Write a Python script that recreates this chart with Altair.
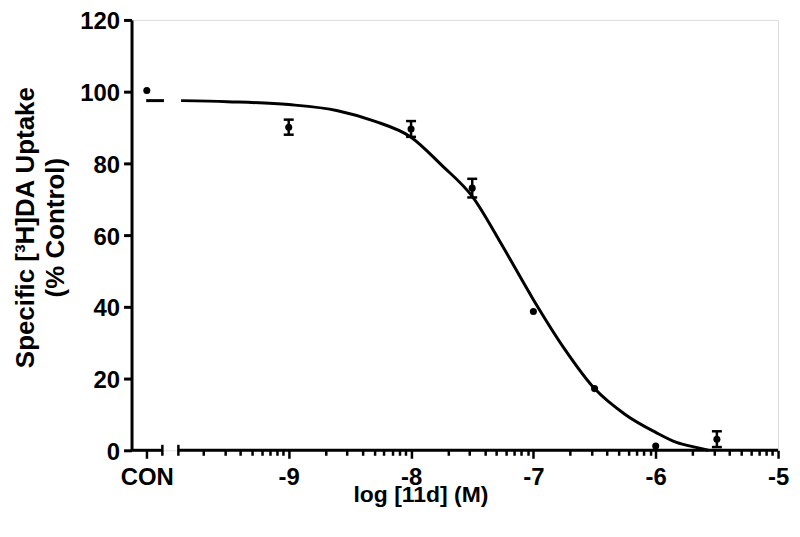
import altair as alt
import pandas as pd
import numpy as np

# ---- data ----
CON_X = -10.16                      # position of the "CON" (control) column on the log axis
dose_x = [CON_X, -9.0, -8.0, -7.5, -7.0, -6.5, -6.0, -5.5]
uptake_mean = [100.3, 90.1, 89.6, 73.1, 38.7, 17.2, 1.2, 3.1]
uptake_sem = [0.0, 2.1, 2.2, 2.6, 0.0, 0.0, 0.0, 2.2]

curve_x = [-9.88, -9.5, -9.0, -8.6, -8.3, -8.0, -7.75, -7.5, -7.25, -7.0,
           -6.75, -6.5, -6.25, -6.0, -5.83, -5.67, -5.57]
curve_y = [97.5, 97.2, 96.4, 94.7, 91.8, 87.3, 79.5, 70.8, 56.8, 42.0,
           28.5, 17.2, 10.0, 5.0, 2.2, 0.8, 0.0]
con_curve_x = [-10.165, -10.02]
con_curve_y = [97.5, 97.5]

major_ticks = [-9, -8, -7, -6, -5]
major_labels = ["-9", "-8", "-7", "-6", "-5"]
y_ticks = [0, 20, 40, 60, 80, 100, 120]
X_MIN, X_MAX = -10.285, -5.0
seg_start = [X_MIN, -9.902]
seg_end = [-10.033, X_MAX]

minor_ticks = [float(d + np.log10(k)) for d in range(-10, -5) for k in range(2, 10)]

FONT = "Liberation Sans"

# ---- tables ----
pts = pd.DataFrame({"x": dose_x, "y": uptake_mean, "sem": uptake_sem})
err = pts[pts["sem"] > 0].copy()
err["lo"] = err["y"] - err["sem"]
err["hi"] = err["y"] + err["sem"]
curve = pd.DataFrame({
    "x": con_curve_x + curve_x,
    "y": con_curve_y + curve_y,
    "seg": ["con"] * len(con_curve_x) + ["main"] * len(curve_x),
})
axis_segs = pd.DataFrame({"x": seg_start, "x2": seg_end})
breaks = pd.DataFrame({"x": [seg_end[0], seg_start[1]]})

xs = alt.Scale(domain=[X_MIN, X_MAX], nice=False, zero=False)
ys = alt.Scale(domain=[0, 120], nice=False, zero=False)

label_map = "{" + ", ".join(f"'{v}': '{l}'" for v, l in zip(major_ticks, major_labels)) + "}"

x_axis = alt.Axis(
    values=[CON_X] + major_ticks,
    domain=False, grid=False,
    tickColor="black", tickWidth=2.5, tickSize=8,
    labelExpr=f"datum.value < -10.1 ? 'CON' : {label_map}['' + datum.value]",
    labelFont=FONT, labelFontSize=24, labelFontWeight="bold", labelColor="black",
    labelBaseline="alphabetic", labelPadding=26, labelFlush=False, labelOverlap=False,
    title="log [11d] (M)",
    titleFont=FONT, titleFontSize=23, titleFontWeight="bold", titleColor="black",
    titleX=290, titleY=51, titleBaseline="alphabetic", titleAlign="center",
    orient="bottom",
)
minor_axis = alt.Axis(
    values=minor_ticks, domain=False, grid=False, labels=False, title=None,
    tickColor="black", tickWidth=2.5, tickSize=5, orient="bottom",
)
y_axis = alt.Axis(
    values=y_ticks,
    grid=False,
    domainColor="black", domainWidth=3,
    tickColor="black", tickWidth=3, tickSize=8,
    labelFont=FONT, labelFontSize=24, labelFontWeight="bold", labelColor="black",
    labelPadding=4, labelBaseline="alphabetic", labelOffset=9,
    title=["Specific [³H]DA Uptake", "(% Control)"],
    titleFont=FONT, titleFontSize=26, titleFontWeight="bold", titleColor="black",
    titleAngle=-90, titleX=-106, titleY=208, titleAlign="center", titleBaseline="middle",
    titleLineHeight=30,
)

points = alt.Chart(pts).mark_point(filled=True, size=50, color="black", opacity=1).encode(
    x=alt.X("x:Q", scale=xs, axis=x_axis),
    y=alt.Y("y:Q", scale=ys, axis=y_axis),
)
line = alt.Chart(curve).mark_line(color="black", strokeWidth=3, interpolate="monotone").encode(
    x=alt.X("x:Q", scale=xs), y=alt.Y("y:Q", scale=ys), detail="seg:N"
)
err_rule = alt.Chart(err).mark_rule(color="black", strokeWidth=2.5).encode(
    x=alt.X("x:Q", scale=xs), y=alt.Y("lo:Q", scale=ys), y2="hi:Q"
)
cap_lo = alt.Chart(err).mark_tick(color="black", orient="horizontal", size=10, thickness=2.5, opacity=1).encode(
    x=alt.X("x:Q", scale=xs), y=alt.Y("lo:Q", scale=ys)
)
cap_hi = alt.Chart(err).mark_tick(color="black", orient="horizontal", size=10, thickness=2.5, opacity=1).encode(
    x=alt.X("x:Q", scale=xs), y=alt.Y("hi:Q", scale=ys)
)
xaxis_line = alt.Chart(axis_segs).mark_rule(color="black", strokeWidth=3).encode(
    x=alt.X("x:Q", scale=xs), x2="x2:Q", y=alt.datum(0)
)
break_ticks = alt.Chart(breaks).mark_tick(color="black", orient="vertical", size=11, thickness=2.5, opacity=1).encode(
    x=alt.X("x:Q", scale=xs), y=alt.datum(0)
)

main = alt.layer(points, xaxis_line, break_ticks, line, err_rule, cap_lo, cap_hi)

minor_layer = alt.Chart(pd.DataFrame({"x": [X_MIN]})).mark_point(opacity=0).encode(
    x=alt.X("x:Q", scale=xs, axis=minor_axis)
)

chart = alt.layer(main, minor_layer).resolve_scale(x="independent").resolve_axis(x="independent").properties(
    width=649, height=432,
    autosize=alt.AutoSizeParams(type="none"),
    padding={"left": 124, "top": 11, "right": 14, "bottom": 70},
).configure_view(stroke=None).configure(background="white")

chart.save("out.html", embed_options={"renderer": "svg", "actions": False})
